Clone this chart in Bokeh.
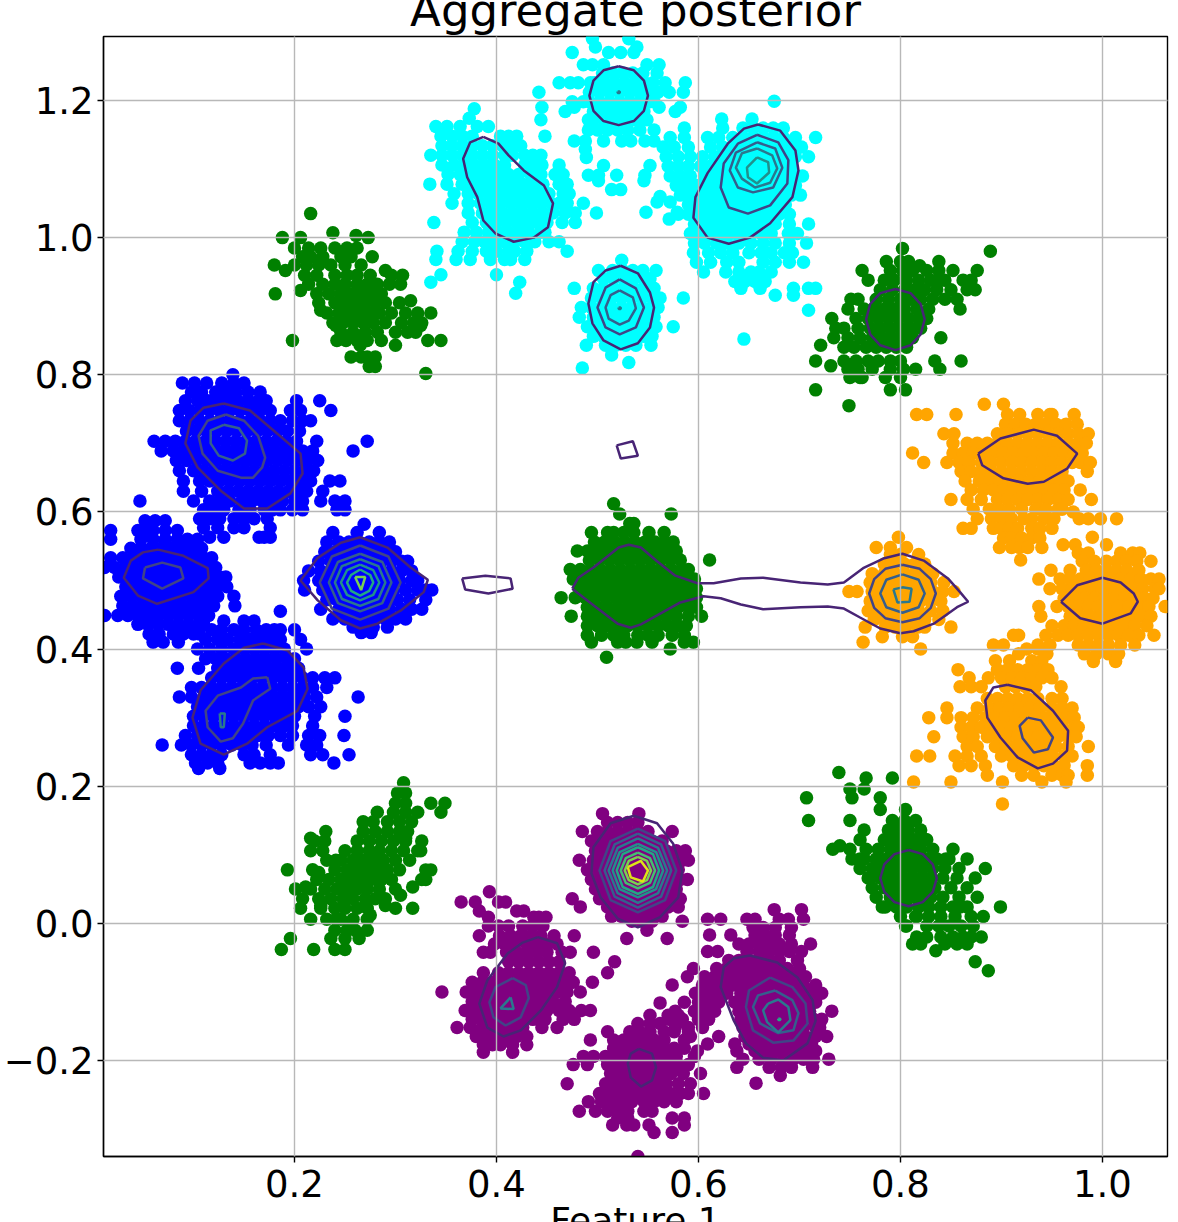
from bokeh.plotting import figure
from bokeh.embed import file_html
from bokeh.resources import INLINE
from bokeh.models import FixedTicker, Range1d

TITLE = "Aggregate posterior"
XLABEL = "Feature 1"
XTICKS = [0.2, 0.4, 0.6, 0.8, 1.0]
YTICKS = [-0.2, 0.0, 0.2, 0.4, 0.6, 0.8, 1.0, 1.2]
VIRIDIS = ['#482475', '#414487', '#355f8d', '#2a788e', '#21918c', '#22a884', '#44bf70', '#7ad151', '#bddf26', '#dde318']

# points: (y, [x, x, ...]) rows
BLUE_A = [
(.800,[.139]),(.788,[.089,.101,.113,.128,.140,.150]),(.775,[.098,.108,.122,.132,.142,.154,.166]),
(.762,[.092,.104,.114,.124,.134,.144,.154,.164,.172,.202,.225]),
(.748,[.086,.096,.106,.116,.126,.136,.146,.156,.166,.176,.196,.206,.236]),
(.733,[.086,.096,.106,.116,.126,.136,.146,.156,.166,.176,.186,.198,.208,.216]),
(.718,[.093,.103,.113,.123,.133,.143,.153,.163,.173,.183,.193,.205]),
(.703,[.061,.072,.082,.092,.102,.112,.122,.132,.142,.152,.162,.172,.182,.192,.202,.222,.272]),
(.689,[.068,.080,.090,.100,.110,.120,.130,.140,.150,.160,.170,.180,.190,.198,.208,.218,.258]),
(.675,[.083,.093,.103,.113,.123,.133,.143,.153,.163,.173,.183,.193,.203,.213,.223]),
(.660,[.086,.100,.110,.120,.130,.140,.150,.160,.170,.180,.190,.200,.210,.219]),
(.645,[.090,.106,.116,.126,.136,.146,.156,.166,.176,.186,.196,.206,.216,.235,.245]),
(.630,[.090,.108,.124,.134,.144,.154,.164,.174,.184,.194,.204,.212,.228]),
(.616,[.047,.100,.116,.126,.136,.148,.158,.168,.178,.188,.200,.208,.226,.240,.250]),
(.603,[.110,.120,.130,.145,.156,.170,.178,.186,.198,.208,.242,.250]),
(.590,[.106,.116,.126,.140,.150,.160,.173]),(.577,[.110,.124,.140,.150,.176]),(.563,[.116,.130,.165,.170,.176]),
]
BLUE_B = [
(.587,[.052,.062,.072]),(.573,[.018,.045,.053,.060,.072,.084]),(.560,[.018,.048,.060,.072,.084,.094,.104]),
(.547,[.038,.048,.058,.068,.078,.088,.098,.108]),(.533,[.018,.030,.040,.050,.060,.070,.080,.090,.100,.110,.118]),
(.519,[.012,.022,.032,.042,.052,.062,.072,.082,.092,.102,.112,.122]),
(.505,[.026,.036,.046,.056,.066,.076,.086,.096,.106,.116,.126,.132]),
(.491,[.033,.043,.053,.063,.073,.083,.093,.103,.113,.123,.133]),
(.477,[.028,.038,.048,.058,.068,.078,.088,.098,.108,.116,.124,.140]),
(.463,[.030,.040,.050,.060,.070,.080,.090,.100,.110,.120,.141]),
(.449,[.012,.025,.035,.045,.055,.065,.075,.085,.095,.105,.115]),
(.436,[.045,.055,.065,.075,.085,.095,.105,.110]),(.422,[.056,.066,.080,.090,.100,.106]),(.410,[.060,.070,.085]),
]
BLUE_C = [
(.455,[.186]),(.441,[.130,.150,.160]),(.428,[.118,.128,.140,.150,.162,.172,.180,.186,.200]),
(.414,[.112,.124,.134,.146,.156,.166,.176,.186,.206]),(.400,[.104,.116,.128,.140,.150,.160,.170,.180,.190,.212]),
(.386,[.112,.122,.132,.142,.152,.162,.172,.182,.192,.200]),(.372,[.084,.105,.124,.134,.144,.154,.164,.174,.184,.194,.204]),
(.358,[.118,.128,.138,.148,.158,.168,.178,.188,.198,.208,.218,.230,.240]),
(.344,[.098,.108,.118,.128,.138,.148,.158,.168,.178,.188,.198,.208,.218,.232]),
(.330,[.086,.098,.110,.120,.130,.140,.150,.160,.170,.180,.190,.200,.210,.222,.263]),
(.316,[.104,.114,.124,.134,.144,.154,.164,.174,.184,.194,.204,.214,.226]),
(.302,[.100,.110,.120,.130,.140,.150,.160,.170,.180,.190,.200,.220,.250]),
(.288,[.100,.110,.120,.130,.140,.150,.160,.170,.180,.190,.198,.218]),
(.274,[.092,.104,.114,.124,.134,.144,.154,.164,.174,.186,.198,.214,.225,.249]),
(.260,[.069,.088,.098,.108,.118,.128,.138,.148,.158,.172,.194,.212,.222]),
(.246,[.098,.108,.118,.128,.150,.160,.176,.216,.228,.254]),(.234,[.102,.114,.124,.156,.166,.176,.184,.239]),(.226,[.105,.126]),
]
BLUE_D = [
(.582,[.269]),(.570,[.238,.262,.284]),(.556,[.232,.244,.254,.264,.274,.284,.294]),
(.542,[.230,.240,.250,.260,.270,.280,.290,.300]),(.528,[.224,.236,.246,.256,.266,.276,.286,.296,.306,.312]),
(.514,[.214,.226,.236,.246,.256,.266,.276,.286,.296,.306,.316]),
(.500,[.209,.224,.234,.244,.254,.264,.274,.284,.294,.304,.316,.322]),
(.486,[.210,.228,.238,.248,.258,.268,.278,.288,.298,.310,.322,.330,.336]),
(.472,[.232,.242,.252,.262,.272,.282,.292,.302,.314,.330]),(.458,[.226,.244,.254,.264,.274,.284,.294,.306,.316,.326]),
(.444,[.238,.250,.260,.270,.280,.290,.300,.310]),(.432,[.258,.268,.278,.292]),(.424,[.266,.276]),
]
CYAN_A = [
(1.188,[.378]),(1.174,[.373]),(1.162,[.340,.351,.364,.381,.392]),(1.148,[.345,.356,.366,.376,.404,.412,.420,.448]),
(1.134,[.346,.356,.366,.376,.386,.396,.406,.416,.424]),(1.120,[.335,.346,.356,.366,.376,.386,.396,.408,.416,.428,.436,.444]),
(1.106,[.346,.358,.368,.378,.388,.398,.408,.428,.438,.445,.462]),(1.092,[.352,.364,.372,.382,.392,.402,.412,.422,.434,.444,.458,.466]),
(1.078,[.334,.351,.366,.376,.386,.396,.406,.416,.426,.436,.446,.462,.470]),(1.064,[.358,.372,.382,.392,.402,.412,.422,.432,.442,.452,.466,.472]),
(1.050,[.356,.372,.384,.394,.404,.414,.424,.434,.444,.454,.462,.470,.486]),(1.036,[.372,.386,.396,.406,.416,.426,.436,.446,.456,.468,.478,.499]),
(1.022,[.338,.376,.390,.400,.410,.420,.430,.440,.450,.465,.478]),(1.008,[.368,.380,.392,.402,.412,.422,.432,.444,.448]),
(.994,[.366,.378,.388,.398,.408,.418,.428,.438,.452,.462]),(.980,[.341,.362,.376,.390,.400,.412,.418,.430,.470]),
(.968,[.340,.360,.374,.394,.408,.414,.428]),(.946,[.345,.400]),(.935,[.335,.423]),(.919,[.419]),
]
CYAN_B = [
(1.290,[.531,.495]),(1.278,[.498,.539]),(1.270,[.475,.511,.523,.536]),(1.252,[.486,.495,.506,.549,.561]),
(1.240,[.505,.515,.525,.535,.545,.559]),(1.226,[.462,.473,.481,.493,.497,.507,.517,.527,.537,.547,.555,.567,.587]),
(1.212,[.442,.492,.502,.512,.522,.532,.542,.552,.560,.571,.585]),(1.198,[.475,.486,.492,.502,.512,.522,.532,.542,.552,.556]),
(1.190,[.445,.477,.561,.582]),(1.184,[.468,.496,.506,.516,.526,.536,.546,.577]),(1.172,[.444,.491,.496,.506,.516,.526,.536,.546,.549]),
(1.157,[.491,.500,.510,.520,.530,.542,.556]),(1.141,[.477,.488,.506,.524,.533,.547,.556]),(1.129,[.488]),(1.117,[.489]),
(1.105,[.506,.552]),(1.091,[.491,.501,.519,.547]),(1.083,[.501,.546]),(1.070,[.523,.514]),(1.060,[.562]),(1.052,[.559,.572]),
(1.037,[.548,.579]),(1.027,[.571]),
]
CYAN_C = [
(1.199,[.675]),(1.173,[.623,.653]),(1.160,[.586,.624,.644,.654,.664,.674,.684]),
(1.146,[.572,.586,.609,.620,.634,.644,.654,.664,.674,.684,.696,.716]),(1.132,[.565,.576,.590,.612,.624,.634,.644,.654,.664,.674,.684,.692,.702]),
(1.118,[.568,.580,.592,.604,.616,.626,.636,.646,.656,.666,.676,.686,.696,.709]),(1.104,[.570,.580,.590,.602,.612,.622,.632,.642,.652,.662,.672,.682,.692]),
(1.090,[.572,.582,.592,.606,.616,.626,.636,.646,.656,.666,.676,.686,.696,.703]),(1.076,[.578,.588,.598,.608,.618,.628,.638,.648,.658,.668,.678,.688,.696]),
(1.062,[.582,.592,.602,.612,.622,.632,.642,.652,.662,.672,.682,.692,.701]),(1.048,[.590,.596,.606,.616,.626,.636,.646,.656,.666,.676,.686]),
(1.034,[.580,.590,.600,.610,.620,.630,.640,.650,.660,.670,.680,.690]),(1.020,[.596,.606,.616,.626,.636,.646,.656,.666,.676,.690,.709]),
(1.006,[.592,.602,.612,.622,.632,.642,.652,.662,.672,.689,.698]),(.992,[.596,.606,.618,.628,.640,.652,.664,.676,.690,.707]),
(.978,[.595,.610,.622,.634,.650,.662,.672,.685,.693]),(.964,[.598,.612,.628,.640,.664,.676,.690,.704]),
(.950,[.605,.627,.640,.652,.660,.672]),(.936,[.636,.646,.656,.666]),(.926,[.642,.661,.694,.709,.716]),(.916,[.676,.694]),(.894,[.709]),(.852,[.645]),
]
CYAN_D = [
(.967,[.524]),(.952,[.501,.515,.525,.535,.545,.558]),(.940,[.506,.516,.526,.536,.546,.552]),(.926,[.477,.496,.506,.516,.526,.536,.546,.556]),
(.912,[.494,.504,.514,.524,.534,.544,.554,.562,.585]),(.898,[.484,.494,.504,.514,.524,.534,.544,.554,.560]),
(.884,[.482,.496,.506,.516,.526,.536,.546,.556]),(.870,[.490,.500,.510,.520,.530,.540,.550,.558,.575]),
(.856,[.496,.506,.516,.526,.536,.546,.554]),(.843,[.489,.508,.518,.528,.538,.553]),(.829,[.514]),(.818,[.531]),(.810,[.485]),
]
GREEN_TL = [
(1.035,[.216]),(1.007,[.238]),(1.003,[.261]),(1.000,[.188,.206,.273]),(.985,[.200,.214,.226,.240,.252,.262]),(.972,[.208,.216,.228,.246,.256,.277]),
(.960,[.180,.200,.212,.224,.236,.250,.266]),(.952,[.191,.290]),(.945,[.210,.222,.240,.252,.262,.275,.296,.307]),(.932,[.214,.228,.240,.250,.262,.272,.282,.294,.305]),
(.923,[.206]),(.918,[.181,.222,.234,.246,.256,.266,.276,.286]),(.908,[.315]),(.905,[.224,.240,.250,.260,.270,.280,.290,.304]),(.894,[.226]),
(.890,[.232,.244,.254,.264,.274,.284,.296,.310,.322,.335]),(.876,[.238,.248,.258,.268,.278,.290,.306,.318,.326]),(.872,[.241,.325]),
(.862,[.246,.258,.270,.282,.300,.312,.320]),(.850,[.198,.242,.251,.262,.272,.286,.332,.345]),(.843,[.265,.300]),(.826,[.256,.266,.272,.280]),(.812,[.274,.280]),(.802,[.330]),
]
GREEN_TR = [
(.984,[.802]),(.980,[.889]),(.965,[.786,.800,.808,.838]),(.959,[.819]),(.952,[.762,.790,.802,.812,.826,.838,.852,.876]),
(.938,[.768,.784,.794,.806,.818,.830,.840,.844,.862,.870]),(.924,[.780,.792,.804,.814,.824,.836,.850,.866,.874]),
(.910,[.751,.758,.776,.788,.800,.810,.820,.832,.844,.856]),(.896,[.748,.764,.774,.784,.794,.804,.816,.828,.859]),
(.882,[.732,.756,.768,.778,.788,.798,.808,.818,.826]),(.868,[.736,.744,.758,.770,.780,.790,.800,.810,.820]),
(.854,[.734,.748,.760,.772,.782,.792,.802,.812,.840]),(.843,[.721]),(.840,[.744,.754,.766,.776,.786,.796,.806]),
(.820,[.716,.744,.756,.768,.778,.790,.800,.834,.860]),(.813,[.731]),(.808,[.748,.758,.772,.790,.803,.815,.839]),(.796,[.750,.760,.762,.785,.800]),(.778,[.716,.790,.805]),(.755,[.749]),
]
GREEN_C = [
(.612,[.516]),(.597,[.522,.573]),(.583,[.532,.536]),(.570,[.494,.510,.516,.526,.536,.551,.566]),(.556,[.497,.507,.517,.527,.537,.547,.557,.567,.575]),
(.543,[.480,.490,.500,.510,.520,.530,.540,.550,.560,.570,.578]),(.530,[.492,.502,.512,.522,.532,.542,.552,.562,.572,.582,.611]),
(.516,[.473,.483,.493,.503,.513,.523,.533,.543,.553,.563,.573,.583,.590]),(.502,[.476,.486,.496,.506,.516,.526,.536,.546,.556,.566,.576,.586,.596]),
(.488,[.482,.492,.502,.512,.522,.532,.542,.552,.562,.572,.582,.592,.598]),(.475,[.464,.478,.488,.498,.508,.518,.528,.538,.548,.558,.568,.578,.588,.598]),
(.461,[.490,.500,.510,.520,.530,.540,.550,.560,.570,.580,.590,.598]),(.448,[.474,.490,.498,.508,.518,.528,.538,.548,.558,.568,.578,.590,.603]),
(.434,[.490,.500,.510,.520,.530,.540,.550,.560,.570,.580,.588]),(.420,[.490,.504,.516,.526,.540,.550,.560,.574,.586]),
(.410,[.494,.520,.528,.539,.554,.586,.595]),(.400,[.572]),(.388,[.509]),
]
GREEN_BL = [
(.205,[.308]),(.190,[.302,.310]),(.175,[.300,.310,.335,.349]),(.162,[.282,.298,.310,.322,.345]),(.148,[.268,.278,.292,.304,.316]),(.134,[.231,.268,.280,.292,.304,.312]),
(.124,[.216,.310]),(.120,[.220,.230,.262,.274,.286,.298,.310,.326]),(.106,[.216,.228,.250,.262,.274,.284,.296,.308,.322,.325]),(.092,[.232,.241,.246,.258,.268,.278,.288,.300,.314]),
(.078,[.193,.218,.240,.252,.262,.272,.282,.292,.304,.330,.335]),(.074,[.224]),(.064,[.222,.234,.246,.256,.266,.276,.286,.296,.326,.330]),
(.053,[.211,.317]),(.050,[.201,.216,.230,.242,.252,.262,.272,.284,.300]),(.041,[.305]),(.036,[.208,.224,.236,.248,.258,.270,.280,.290]),(.026,[.226,.290]),(.022,[.206,.226,.240,.250,.262,.272,.300,.317]),
(.012,[.275]),(.006,[.216,.232,.241,.246,.258,.272]),(-.004,[.255]),(-.010,[.240,.252,.260,.272]),(-.022,[.196,.236,.250,.264]),(-.038,[.187,.219,.240,.250]),
]
GREEN_BR = [
(.220,[.739]),(.212,[.766,.792]),(.196,[.750,.764]),(.183,[.707,.752,.780]),(.166,[.780,.805]),(.150,[.709,.750,.792,.804,.815]),(.143,[.800]),(.136,[.764,.788,.798,.808,.820]),
(.122,[.760,.784,.794,.804,.814,.825,.826]),(.113,[.740]),(.108,[.733,.750,.766,.778,.790,.800,.810,.820,.832,.852]),(.094,[.752,.760,.764,.776,.786,.796,.806,.816,.826,.836,.845,.848,.866]),
(.080,[.760,.772,.782,.792,.802,.812,.822,.832,.844,.858,.884]),(.066,[.768,.770,.780,.790,.800,.810,.820,.830,.842,.856,.874]),(.052,[.772,.784,.794,.804,.814,.824,.834,.850,.866]),
(.038,[.776,.790,.800,.810,.820,.830,.842,.858,.876]),(.024,[.782,.785,.796,.806,.818,.828,.840,.852,.859,.866,.899]),(.010,[.800,.815,.816,.828,.840,.854,.870,.882]),
(-.004,[.805,.806,.826,.838,.848,.860,.872]),(-.020,[.816,.826,.840,.852,.862,.870,.880]),(-.030,[.812,.820,.844,.856,.866]),(-.040,[.835]),(-.056,[.874]),(-.069,[.887]),
]
ORANGE_T = [
(.757,[.883,.902]),(.742,[.816,.826,.855,.906,.918,.936,.948,.950,.972]),(.728,[.904,.914,.924,.934,.944,.954,.964,.975]),
(.714,[.843,.853,.896,.906,.916,.926,.936,.946,.956,.966,.976,.986]),(.700,[.852,.866,.876,.886,.896,.906,.916,.926,.936,.946,.956,.966,.976,.984]),
(.686,[.812,.852,.862,.872,.882,.892,.902,.912,.922,.932,.942,.952,.962,.972,.980]),(.672,[.823,.846,.858,.868,.880,.890,.900,.910,.920,.930,.940,.950,.960,.970,.978,.988]),
(.659,[.860,.870,.880,.890,.900,.910,.920,.930,.940,.950,.960,.985]),(.645,[.864,.878,.888,.898,.908,.918,.928,.938,.948,.958,.966]),
(.632,[.870,.882,.892,.902,.912,.922,.932,.942,.952,.962,.978]),(.618,[.850,.866,.880,.896,.906,.916,.926,.936,.946,.956,.966,.989]),
(.604,[.872,.888,.898,.908,.920,.934,.944,.956,.960]),(.590,[.876,.890,.900,.910,.922,.930,.942,.952]),(.576,[.862,.870,.892,.900,.908,.916,.930,.938,.950]),
(.562,[.902,.910,.920,.930,.938]),(.548,[.898,.910,.918,.926,.940]),(.530,[.919]),
]
ORANGE_R = [
(.600,[.971]),(.590,[.977,.986,.998,1.014]),(.563,[.990]),(.552,[.961,.973,1.004]),(.540,[.976,.986,1.018,1.030,1.037]),
(.528,[.980,.992,1.004,1.014,1.024,1.034,1.048]),(.515,[.949,.968,.984,.994,1.004,1.014,1.024,1.036]),
(.502,[.937,.958,.968,.978,.988,.998,1.008,1.018,1.028,1.038,1.048,1.056]),(.488,[.948,.960,.970,.980,.990,1.000,1.010,1.020,1.030,1.040,1.052,1.056]),
(.474,[.962,.972,.982,.992,1.002,1.012,1.022,1.032,1.042,1.050]),(.462,[.937,.955,.966,.976,.986,.996,1.006,1.016,1.026,1.036,1.046,1.062]),
(.448,[.939,.968,.978,.988,.998,1.008,1.018,1.028,1.038,1.048]),(.434,[.950,.962,.972,.982,.992,1.002,1.012,1.022,1.032,1.044]),
(.420,[.912,.917,.944,.956,.966,.976,.986,.996,1.006,1.016,1.026,1.036,1.051]),(.406,[.892,.902,.936,.948,.976,.986,.996,1.006,1.018,1.032]),
(.393,[.982,.994,1.006,1.016]),(.382,[.991,1.013]),
]
ORANGE_C = [
(.563,[.798]),(.548,[.776,.790,.806]),(.538,[.790,.800,.818]),(.524,[.784,.794,.804,.814,.824]),(.510,[.772,.784,.794,.804,.814,.824,.832]),
(.497,[.770,.780,.790,.800,.810,.820,.830,.843]),(.484,[.749,.757,.772,.782,.792,.802,.812,.822,.832,.842,.853]),(.470,[.770,.780,.790,.800,.810,.820,.830,.840]),
(.456,[.768,.778,.788,.798,.808,.818,.830,.842]),(.443,[.774,.784,.794,.804,.814,.824,.838]),(.432,[.765,.785,.795,.805,.817,.824,.850]),
(.418,[.782,.802,.812]),(.410,[.763]),(.400,[.820]),
]
ORANGE_B = [
(.400,[.925,.936]),(.393,[.917,.945]),(.383,[.894,.908,.930,.940]),(.370,[.857,.896,.906,.916,.926,.936,.946]),(.358,[.868,.887,.900,.910,.920,.930,.940,.950]),
(.345,[.859,.870,.880,.904,.914,.924,.934,.959]),(.328,[.886,.896,.906,.916,.926,.936,.950,.960]),(.314,[.846,.876,.888,.898,.908,.918,.928,.938,.950,.960,.970]),
(.300,[.828,.846,.860,.872,.884,.894,.904,.914,.924,.934,.944,.954,.964,.972]),(.286,[.860,.870,.880,.890,.900,.910,.920,.930,.940,.950,.960,.972,.976]),
(.272,[.833,.862,.872,.886,.896,.906,.916,.926,.936,.946,.956,.966,.974]),(.258,[.866,.876,.894,.904,.914,.924,.934,.944,.954,.966,.986]),
(.244,[.816,.829,.854,.866,.880,.900,.910,.920,.930,.940,.950,.962,.970]),(.230,[.858,.870,.884,.912,.922,.932,.942,.952,.962,.985]),
(.216,[.886,.920,.932,.950,.960,.966,.985]),(.206,[.813,.850,.901,.940,.964]),(.174,[.901]),
]
PURPLE_T = [
(.160,[.505,.541]),(.147,[.510,.520,.530,.540]),(.134,[.485,.500,.510,.520,.530,.540,.550,.574]),(.120,[.494,.504,.514,.524,.534,.544,.554,.564]),
(.106,[.498,.508,.518,.528,.538,.548,.558,.568,.578,.587]),(.092,[.482,.496,.506,.516,.526,.536,.546,.556,.566,.576,.584,.590]),
(.078,[.490,.500,.510,.520,.530,.540,.550,.560,.570,.580]),(.064,[.494,.504,.514,.524,.534,.544,.554,.564,.574,.582,.589]),
(.050,[.498,.508,.518,.528,.538,.548,.558,.568,.578]),(.036,[.475,.502,.512,.522,.532,.542,.552,.562,.572,.582]),(.024,[.483,.510,.520,.530,.540,.550,.560,.570,.580]),
(.010,[.514,.524,.534,.544,.554,.564]),(.003,[.534,.544,.554,.584]),(-.010,[.549]),(-.022,[.529,.569]),
]
PURPLE_L = [
(.046,[.393]),(.031,[.365,.379,.402,.409]),(.018,[.383,.420,.427]),(.009,[.392,.437,.442,.449]),(-.004,[.392,.402,.412,.426,.436,.446]),
(-.018,[.383,.403,.414,.424,.434,.444,.457,.477]),(-.030,[.398,.408,.418,.430,.440,.450,.460]),(-.042,[.387,.394,.410,.420,.430,.440,.450,.465,.473,.496]),
(-.056,[.412,.422,.432,.442,.452,.462,.517]),(-.072,[.387,.402,.412,.422,.432,.442,.452,.462,.472,.510]),
(-.086,[.376,.386,.396,.406,.416,.426,.436,.446,.456,.466,.476,.495]),(-.100,[.346,.370,.380,.390,.400,.410,.420,.430,.440,.450,.460,.470,.483]),
(-.114,[.376,.386,.396,.406,.416,.426,.436,.446,.456,.468]),(-.127,[.369,.380,.390,.400,.410,.420,.430,.440,.450,.462,.472,.484,.493]),
(-.140,[.376,.386,.396,.406,.416,.426,.436,.448,.466,.477]),(-.152,[.361,.374,.386,.396,.406,.416,.426,.445,.460]),(-.165,[.380,.390,.400,.410,.420,.430]),
(-.177,[.387,.396,.404,.416,.430]),(-.188,[.387,.416]),
]
PURPLE_B = [
(-.116,[.562]),(-.134,[.552,.570,.580]),(-.146,[.540,.552,.562,.578]),(-.158,[.510,.532,.542,.552,.566,.576,.590]),(-.170,[.493,.516,.526,.536,.546,.556,.566,.586]),
(-.182,[.516,.526,.536,.546,.556,.566,.576,.586]),(-.194,[.486,.496,.508,.518,.528,.538,.548,.558,.568,.578,.596]),(-.206,[.476,.490,.510,.520,.530,.540,.550,.560,.570,.580,.590]),
(-.219,[.513,.523,.533,.543,.553,.563,.573,.585,.602]),(-.234,[.470,.508,.518,.528,.538,.548,.558,.568,.580,.592]),(-.248,[.502,.512,.522,.532,.542,.552,.562,.572,.582,.590,.605]),
(-.260,[.491,.504,.514,.524,.534,.546,.556,.566,.578]),(-.274,[.482,.498,.510,.520,.530,.546,.554]),(-.284,[.520,.530,.574,.586]),(-.294,[.515,.529,.536,.551,.586]),(-.305,[.556,.574]),(-.340,[.540]),
]
PURPLE_R = [
(.020,[.675,.702]),(.006,[.609,.622,.648,.656,.680,.689,.704]),(-.006,[.654,.664,.676,.692]),(-.017,[.611,.632,.656,.666,.676,.690]),(-.030,[.640,.650,.660,.670,.680,.692,.711]),
(-.041,[.609,.619,.648,.660,.670,.680,.690,.702]),(-.054,[.630,.640,.650,.660,.670,.680,.698]),(-.066,[.595,.618,.628,.638,.648,.658,.668,.678,.688,.700]),
(-.078,[.589,.606,.616,.626,.636,.646,.656,.666,.676,.686,.696,.706]),(-.090,[.574,.604,.614,.624,.634,.644,.654,.664,.674,.684,.694,.704,.716]),
(-.102,[.597,.606,.616,.628,.642,.652,.662,.672,.682,.692,.702,.712,.722]),(-.115,[.586,.600,.610,.620,.636,.646,.656,.666,.676,.686,.696,.706,.716]),
(-.128,[.577,.596,.606,.616,.640,.650,.660,.670,.680,.690,.700,.710,.732]),(-.140,[.571,.584,.600,.610,.642,.652,.662,.672,.682,.692,.702,.714,.722]),
(-.152,[.577,.590,.604,.644,.654,.664,.674,.684,.694,.704,.716,.720]),(-.165,[.592,.620,.646,.656,.666,.676,.686,.696,.706,.716,.727]),
(-.176,[.609,.636,.650,.660,.670,.680,.690,.700,.712]),(-.186,[.599,.638,.656,.666,.676,.686,.696,.706,.716]),(-.198,[.644,.660,.672,.684,.694,.704,.714,.729]),
(-.210,[.638,.670,.682,.692,.713]),(-.222,[.681]),(-.233,[.657]),
]

# density contours: (level, xs, ys)
CONT_BLUE = [
(0,[.130,.156,.179,.206,.208,.196,.173,.150,.127,.104,.092,.097,.110],[.758,.748,.719,.685,.656,.627,.605,.605,.631,.665,.700,.733,.752]),
(1,[.132,.150,.164,.171,.168,.159,.147,.124,.109,.105,.114],[.742,.733,.711,.679,.665,.650,.650,.660,.685,.711,.733]),
(2,[.130,.145,.153,.151,.139,.125,.117,.117],[.727,.722,.704,.685,.675,.682,.700,.719]),
(0,[.065,.090,.114,.115,.100,.064,.045,.031,.038,.050],[.545,.536,.518,.503,.483,.466,.478,.504,.529,.541]),
(1,[.052,.069,.087,.090,.069,.050],[.519,.526,.519,.503,.488,.503]),
(0,[.169,.193,.209,.213,.203,.173,.153,.130,.107,.099,.107,.130,.150],[.408,.398,.373,.342,.310,.286,.262,.246,.262,.300,.340,.379,.402]),
(1,[.173,.176,.159,.149,.139,.127,.114,.112,.124,.147,.159],[.359,.342,.325,.291,.270,.265,.286,.310,.332,.344,.357]),
(3,[.126,.131,.130,.127],[.306,.306,.286,.286]),
(0,[.265,.292,.315,.332,.328,.305,.282,.265,.246,.223,.206,.223,.246],[.563,.548,.519,.501,.483,.456,.437,.430,.442,.471,.500,.533,.555]),
(1,[.265,.293,.305,.293,.265,.237,.225,.237],[.551,.535,.497,.459,.443,.459,.497,.535]),
(2,[.265,.287,.296,.287,.265,.243,.234,.243],[.539,.527,.497,.467,.455,.467,.497,.527]),
(3,[.265,.283,.290,.283,.265,.247,.240,.247],[.531,.521,.497,.473,.463,.473,.497,.521]),
(4,[.265,.278,.284,.278,.265,.252,.246,.252],[.523,.515,.497,.479,.471,.479,.497,.515]),
(5,[.265,.275,.278,.274,.265,.256,.252,.256],[.516,.508,.497,.485,.478,.485,.497,.508]),
(7,[.260,.270,.266],[.505,.505,.486]),
]
CONT_CYAN = [
(0,[.387,.402,.412,.427,.447,.456,.451,.437,.417,.399,.387,.381,.371,.367,.374],[1.147,1.137,1.120,1.098,1.076,1.050,1.015,1.000,.994,1.006,1.025,1.059,1.088,1.115,1.139]),
(0,[.521,.536,.546,.550,.546,.536,.521,.506,.496,.492,.496,.506],[1.250,1.244,1.229,1.207,1.185,1.170,1.164,1.170,1.185,1.207,1.229,1.244]),
(3,[.520,.522,.522,.520],[1.213,1.213,1.211,1.211]),
(0,[.659,.681,.696,.699,.693,.671,.651,.630,.609,.595,.597,.609,.629,.645],[1.165,1.156,1.127,1.098,1.059,1.021,1.000,.991,1.000,1.029,1.059,1.094,1.137,1.159]),
(1,[.658,.679,.689,.688,.671,.649,.630,.622,.625,.639],[1.150,1.139,1.113,1.079,1.047,1.035,1.044,1.073,1.108,1.137]),
(2,[.658,.676,.683,.674,.654,.639,.631,.637],[1.139,1.130,1.102,1.073,1.066,1.073,1.098,1.124]),
(3,[.658,.673,.678,.671,.656,.643,.637,.643],[1.130,1.120,1.101,1.080,1.073,1.086,1.102,1.123]),
(4,[.658,.669,.670,.658,.649,.648],[1.117,1.110,1.095,1.079,1.088,1.102]),
(0,[.523,.540,.552,.556,.552,.540,.523,.506,.495,.491,.496,.508],[.959,.948,.920,.898,.869,.846,.837,.850,.875,.904,.935,.952]),
(1,[.522,.538,.546,.538,.522,.508,.500,.508],[.939,.926,.898,.869,.859,.869,.898,.927]),
(2,[.522,.535,.538,.531,.522,.511,.508,.513],[.923,.913,.897,.879,.873,.882,.898,.916]),
(3,[.521,.523,.523,.521],[.898,.898,.896,.896]),
]
CONT_GREEN_BRIDGE = [
(0,[.475,.481,.496,.521,.531,.543,.559,.577,.599,.615,.642,.664,.701,.728,.744,.763,.783,.802,.823,.847,.859,.867,.856,.833,.813,.800,.780,.760,.744,.728,.701,.664,.642,.622,.605,.582,.559,.543,.533,.520,.496],
   [.488,.504,.519,.548,.552,.548,.528,.507,.496,.496,.503,.504,.497,.494,.497,.518,.532,.539,.529,.503,.483,.469,.461,.437,.426,.423,.430,.446,.459,.462,.461,.458,.465,.474,.477,.468,.449,.436,.431,.437,.464]),
(0,[.795,.810,.820,.824,.820,.810,.795,.780,.770,.766,.770,.780],[.925,.919,.903,.881,.859,.843,.836,.843,.859,.881,.903,.919]),
(0,[.808,.822,.832,.836,.832,.822,.808,.794,.784,.780,.784,.794],[.107,.101,.086,.066,.046,.031,.025,.031,.046,.066,.086,.101]),
(0,[.519,.535,.540,.523],[.697,.703,.682,.678]),
(0,[.366,.389,.414,.416,.392,.369],[.503,.507,.503,.488,.481,.487]),
]
CONT_ORANGE = [
(1,[.802,.819,.830,.835,.830,.819,.802,.785,.774,.769,.774,.785],[.523,.517,.502,.481,.460,.445,.439,.445,.460,.481,.502,.517]),
(2,[.802,.818,.824,.818,.802,.786,.780,.786],[.509,.501,.481,.461,.453,.461,.481,.501]),
(3,[.793,.802,.811,.809,.797],[.487,.490,.488,.469,.468]),
(0,[.877,.899,.932,.955,.975,.965,.942,.926,.902,.881],[.685,.707,.720,.711,.685,.663,.644,.641,.649,.668]),
(0,[.959,.975,1.0,1.018,1.031,1.035,1.028,1.0,.978],[.469,.493,.504,.497,.481,.469,.452,.437,.445]),
(0,[.906,.929,.951,.966,.965,.951,.936,.916,.899,.886,.884,.892],[.348,.340,.310,.281,.252,.233,.226,.242,.271,.300,.325,.344]),
(1,[.926,.939,.951,.946,.932,.921,.918],[.300,.296,.271,.254,.249,.270,.288]),
]
CONT_PURPLE = [
(0,[.536,.559,.575,.584,.580,.562,.540,.520,.503,.494,.496,.513],[.157,.146,.116,.077,.038,.009,-.006,.007,.038,.073,.111,.146]),
(1,[.540,.567,.578,.567,.540,.513,.502,.513],[.138,.120,.077,.034,.016,.034,.077,.120]),
(2,[.540,.563,.573,.563,.540,.517,.507,.517],[.131,.115,.077,.039,.023,.039,.077,.115]),
(3,[.540,.560,.569,.560,.540,.520,.511,.520],[.124,.110,.077,.044,.030,.044,.077,.110]),
(4,[.540,.558,.565,.558,.540,.522,.515,.522],[.116,.104,.077,.050,.038,.050,.077,.104]),
(5,[.540,.555,.561,.555,.540,.525,.519,.525],[.111,.101,.077,.053,.043,.053,.077,.101]),
(6,[.540,.552,.557,.552,.540,.528,.523,.528],[.103,.095,.077,.059,.051,.059,.077,.095]),
(7,[.540,.549,.553,.549,.540,.531,.527,.531],[.097,.091,.077,.063,.057,.063,.077,.091]),
(9,[.530,.543,.550,.545,.533],[.082,.091,.077,.061,.067]),
(0,[.441,.460,.468,.460,.444,.424,.407,.391,.383,.391,.411,.426],[-.020,-.029,-.058,-.093,-.127,-.156,-.165,-.152,-.117,-.083,-.044,-.028]),
(1,[.416,.429,.432,.424,.409,.397,.393,.399],[-.080,-.090,-.109,-.137,-.149,-.137,-.115,-.093]),
(3,[.414,.417,.404],[-.108,-.125,-.124]),
(0,[.541,.554,.558,.554,.543,.533,.530,.533],[-.183,-.190,-.210,-.229,-.238,-.225,-.204,-.190]),
(0,[.651,.678,.698,.713,.716,.708,.684,.664,.647,.635,.622,.625,.635],[-.047,-.057,-.079,-.112,-.142,-.175,-.200,-.196,-.175,-.142,-.093,-.064,-.051]),
(1,[.671,.693,.706,.708,.694,.674,.654,.647,.650],[-.079,-.093,-.117,-.146,-.171,-.174,-.156,-.122,-.098]),
(2,[.676,.693,.699,.694,.679,.661,.654,.659],[-.098,-.112,-.131,-.156,-.160,-.146,-.122,-.105]),
(3,[.669,.679,.689,.691,.679,.668,.664],[-.117,-.111,-.122,-.141,-.159,-.144,-.127]),
(5,[.679,.681,.681,.679],[-.139,-.139,-.141,-.141]),
]

SERIES = [
    ("blue", [BLUE_A, BLUE_B, BLUE_C, BLUE_D]),
    ("cyan", [CYAN_A, CYAN_B, CYAN_C, CYAN_D]),
    ("green", [GREEN_TL, GREEN_TR, GREEN_C, GREEN_BL, GREEN_BR]),
    ("orange", [ORANGE_T, ORANGE_R, ORANGE_C, ORANGE_B]),
    ("purple", [PURPLE_T, PURPLE_L, PURPLE_B, PURPLE_R]),
]

p = figure(width=1178, height=1404, output_backend="svg", toolbar_location=None,
           x_range=Range1d(0.0109, 1.0644), y_range=Range1d(-0.34, 1.2933),
           min_border_left=103, min_border_right=11, min_border_top=100, min_border_bottom=184,
           background_fill_color="white", border_fill_color="white",
           title=TITLE, x_axis_label=XLABEL)
p.styles = {"margin-top": "-64px", "margin-bottom": "-118px"}

for color, clusters in SERIES:
    xs, ys = [], []
    for rows in clusters:
        for y, row in rows:
            xs += row
            ys += [y] * len(row)
    p.scatter(xs, ys, size=13.5, color=color, line_color=None)

for group in (CONT_BLUE, CONT_CYAN, CONT_GREEN_BRIDGE, CONT_ORANGE, CONT_PURPLE):
    for level, cx, cy in group:
        p.line(cx + cx[:1], cy + cy[:1], line_color=VIRIDIS[level], line_width=2.5, level="guide")

p.grid.grid_line_color = "#b8b8b8"
p.grid.grid_line_width = 1.4
p.grid.level = "guide"
p.xaxis.ticker = FixedTicker(ticks=XTICKS)
p.yaxis.ticker = FixedTicker(ticks=YTICKS)
p.xaxis.major_label_overrides = {1.0: "1.0"}
p.yaxis.major_label_overrides = {-0.2: "\u22120.2", 0.0: "0.0", 1.0: "1.0"}
for ax, standoff in ((p.xaxis[0], 7), (p.yaxis[0], 4)):
    ax.major_label_text_font = "DejaVu Sans"
    ax.major_label_text_font_size = "37px"
    ax.major_label_text_color = "black"
    ax.major_tick_in = 0
    ax.major_tick_out = 6
    ax.minor_tick_in = 0
    ax.minor_tick_out = 0
    ax.major_tick_line_width = 1.4
    ax.axis_line_width = 1.4
    ax.major_label_standoff = standoff
p.outline_line_color = "black"
p.outline_line_width = 1.4

p.title.align = "center"
p.title.text_font = "DejaVu Sans"
p.title.text_font_size = "45px"
p.title.text_font_style = "normal"
p.title.text_color = "black"
p.title.standoff = 0
p.title.offset = -2

p.xaxis.axis_label_text_font = "DejaVu Sans"
p.xaxis.axis_label_text_font_size = "36px"
p.xaxis.axis_label_text_font_style = "normal"
p.xaxis.axis_label_text_color = "black"
p.xaxis.axis_label_standoff = 0

open("out.html", "w").write(file_html(p, INLINE))
